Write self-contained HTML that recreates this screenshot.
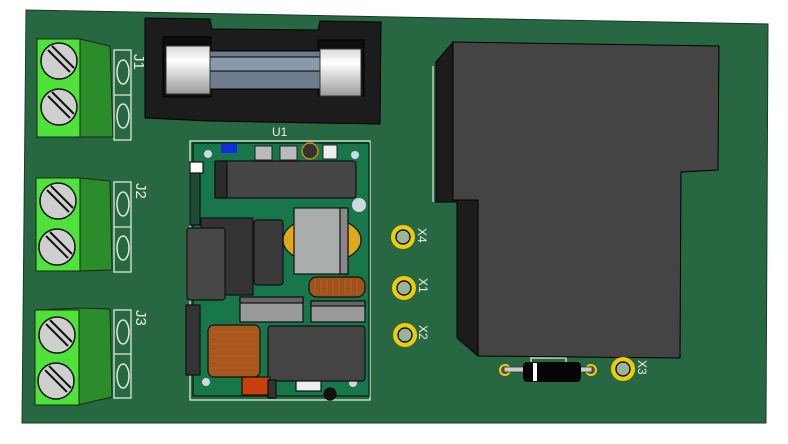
<!DOCTYPE html>
<html><head><style>
html,body{margin:0;padding:0;background:#fff;width:788px;height:444px;overflow:hidden}
svg{display:block}
text{font-family:"Liberation Sans",sans-serif;fill:#e8f0e8}
</style></head><body>
<svg width="788" height="444" viewBox="0 0 788 444">
<polygon points="26,10 768,24 766,423 22,423" fill="#276843" stroke="#1a3a26" stroke-width="1"/>
<g fill="none" stroke="#dfe8d8" stroke-width="1.3">
<rect x="114" y="50" width="17" height="90"/><rect x="114" y="182" width="17" height="90"/><rect x="114" y="310" width="17" height="88"/>
<line x1="114" y1="95" x2="131" y2="95"/><line x1="114" y1="227" x2="131" y2="227"/><line x1="114" y1="354" x2="131" y2="354"/>
<rect x="190" y="141" width="180" height="259"/>
<rect x="531" y="358" width="35" height="8"/>
</g>
<g fill="none" stroke="#dfe8d8" stroke-width="1.5">
<ellipse cx="123" cy="72" rx="6" ry="12"/><ellipse cx="123" cy="116" rx="6" ry="12"/>
<ellipse cx="123" cy="204" rx="6" ry="12"/><ellipse cx="123" cy="248" rx="6" ry="12"/>
<ellipse cx="123" cy="332" rx="6" ry="12"/><ellipse cx="123" cy="376" rx="6" ry="12"/>
</g>
<text x="0" y="0" font-size="15" transform="translate(134,54) rotate(90)">J1</text>
<text x="0" y="0" font-size="15" transform="translate(136,183) rotate(90)">J2</text>
<text x="0" y="0" font-size="15" transform="translate(136,310) rotate(90)">J3</text>
<text x="272" y="136" font-size="12">U1</text>
<g stroke="#1a2a10" stroke-width="1">
<polygon points="37,40 80,39 110,46 113,137 80,137 37,134" fill="#2a8c2a"/>
<rect x="37" y="39" width="43" height="98" fill="#4ee23a"/>
<polygon points="36,178 80,178 110,181 112,270 80,271 36,269" fill="#2a8c2a"/>
<rect x="36" y="178" width="44" height="93" fill="#4ee23a"/>
<polygon points="35,310 80,308 110,309 112,397 78,405 35,405" fill="#2a8c2a"/>
<rect x="35" y="310" width="44" height="95" fill="#4ee23a"/>
</g>
<g fill="#cfcfcf" stroke="#111" stroke-width="1.5">
<circle cx="59" cy="61" r="18"/><circle cx="59" cy="107" r="18"/>
<circle cx="58" cy="201" r="18"/><circle cx="57" cy="247" r="18"/>
<circle cx="57" cy="335" r="18"/><circle cx="56" cy="381" r="18"/>
</g>
<g stroke="#111" stroke-width="2">
<path d="M48,50 L70,72 M52,46 L74,68"/><path d="M48,96 L70,118 M52,92 L74,114"/>
<path d="M47,190 L69,212 M51,186 L73,208"/><path d="M46,236 L68,258 M50,232 L72,254"/>
<path d="M46,324 L68,346 M50,320 L72,342"/><path d="M45,370 L67,392 M49,366 L71,388"/>
</g>
<g stroke="#000" stroke-width="1">
<polygon points="145,18 210,19 212,29 318,30 320,21 381,22 380,124 318,123 210,121 145,118" fill="#1c1c1c"/>
<rect x="163" y="37" width="48" height="60" fill="#0e0e0e"/>
<rect x="318" y="40" width="46" height="56" fill="#0e0e0e"/>
<rect x="210" y="51" width="112" height="38" fill="#6d7d8e"/>
<rect x="210" y="57" width="112" height="14" fill="#8a9aaa"/>
</g>
<defs><linearGradient id="cap" x1="0" y1="0" x2="0" y2="1"><stop offset="0" stop-color="#d8d8d8"/><stop offset=".3" stop-color="#fff"/><stop offset="1" stop-color="#9a9a9a"/></linearGradient></defs>
<rect x="166" y="46" width="44" height="48" fill="url(#cap)" stroke="#333"/>
<rect x="320" y="49" width="41" height="47" fill="url(#cap)" stroke="#333"/>
<rect x="193" y="143" width="176" height="253" fill="#17764a" stroke="#0a2a18" stroke-width="1.5"/>
<rect x="221" y="144" width="16" height="9" fill="#1030e0"/>
<rect x="255" y="146" width="17" height="14" fill="#bbb" stroke="#222"/>
<rect x="280" y="146" width="17" height="14" fill="#bbb" stroke="#222"/>
<circle cx="310" cy="151" r="8" fill="#333" stroke="#d08a10" stroke-width="1.5"/>
<rect x="323" y="145" width="14" height="14" fill="#eee" stroke="#222"/>
<circle cx="208" cy="154" r="4" fill="#cfd8e0"/><circle cx="355" cy="155" r="4" fill="#cfd8e0"/>
<circle cx="359" cy="205" r="7" fill="#cfd8e0"/><circle cx="206" cy="382" r="4" fill="#cfd8e0"/><circle cx="353" cy="383" r="4" fill="#cfd8e0"/>
<g stroke="#111" stroke-width="1.2">
<rect x="215" y="161" width="141" height="37" rx="3" fill="#454545"/>
<rect x="215" y="161" width="12" height="37" fill="#2a2a2a"/>
<rect x="190" y="162" width="10" height="63" fill="#1d4a30"/>
<rect x="190" y="162" width="13" height="11" fill="#fff"/>
<rect x="201" y="218" width="52" height="77" fill="#333"/>
<rect x="187" y="228" width="38" height="72" rx="3" fill="#474747"/>
<rect x="254" y="220" width="29" height="65" rx="3" fill="#3a3a3a"/>
<ellipse cx="322" cy="240" rx="39" ry="23" fill="#e0a81a"/>
<rect x="294" y="208" width="54" height="66" fill="#a9aeaa"/>
<rect x="340" y="208" width="8" height="66" fill="#888"/>
<rect x="309" y="277" width="56" height="20" rx="8" fill="#a0521e"/>
<rect x="240" y="297" width="63" height="25" fill="#999"/>
<rect x="240" y="297" width="63" height="6" fill="#666"/>
<rect x="311" y="301" width="54" height="21" fill="#999"/>
<rect x="311" y="301" width="54" height="5" fill="#666"/>
<rect x="186" y="305" width="14" height="70" fill="#333"/>
<rect x="208" y="325" width="52" height="52" rx="6" fill="#a8581e"/>
<rect x="268" y="326" width="97" height="55" rx="3" fill="#444"/>
<rect x="242" y="377" width="28" height="18" fill="#c8400c"/>
<rect x="268" y="380" width="8" height="18" fill="#333"/>
<rect x="296" y="381" width="25" height="10" fill="#eee"/>
<circle cx="330" cy="394" r="6" fill="#111"/>
</g>
<g stroke="#c06020" stroke-width="1" opacity=".8">
<path d="M212,332H256M212,338H256M212,344H256M212,350H256M212,356H256M212,362H256M212,368H256"/>
<path d="M315,279V295M321,279V295M327,279V295M333,279V295M339,279V295M345,279V295M351,279V295M357,279V295"/>
</g>
<polygon points="436,62 453,42 453,200 478,200 478,356 457,338 457,202 436,202" fill="#1c1c1c" stroke="#000"/>
<polygon points="453,42 719,46 718,170 681,172 680,358 478,356 478,200 453,200" fill="#444" stroke="#000"/>
<line x1="433" y1="66" x2="433" y2="202" stroke="#fff" stroke-width="1"/>
<g fill="#9ab49a" stroke="#f2cc00" stroke-width="4">
<circle cx="403" cy="237" r="10"/><circle cx="404" cy="288" r="10"/><circle cx="405" cy="335" r="10"/><circle cx="623" cy="369" r="10"/>
</g>
<g fill="none" stroke="#000" stroke-width="1.2">
<circle cx="403" cy="237" r="7"/><circle cx="404" cy="288" r="7"/><circle cx="405" cy="335" r="7"/><circle cx="623" cy="369" r="7"/>
</g>
<text font-size="12" transform="translate(418,228) rotate(90)">X4</text>
<text font-size="12" transform="translate(419,278) rotate(90)">X1</text>
<text font-size="12" transform="translate(419,325) rotate(90)">X2</text>
<text font-size="12" transform="translate(638,360) rotate(90)">X3</text>
<circle cx="505" cy="370" r="5" fill="#555" stroke="#f2cc00" stroke-width="2"/>
<circle cx="591" cy="370" r="5" fill="#555" stroke="#f2cc00" stroke-width="2"/>
<rect x="504" y="367" width="88" height="5" fill="#ccc" stroke="#333" stroke-width=".8"/>
<rect x="523" y="362" width="58" height="20" rx="4" fill="#050505"/>
<rect x="533" y="363" width="4" height="18" fill="#fff"/>
</svg>
</body></html>
